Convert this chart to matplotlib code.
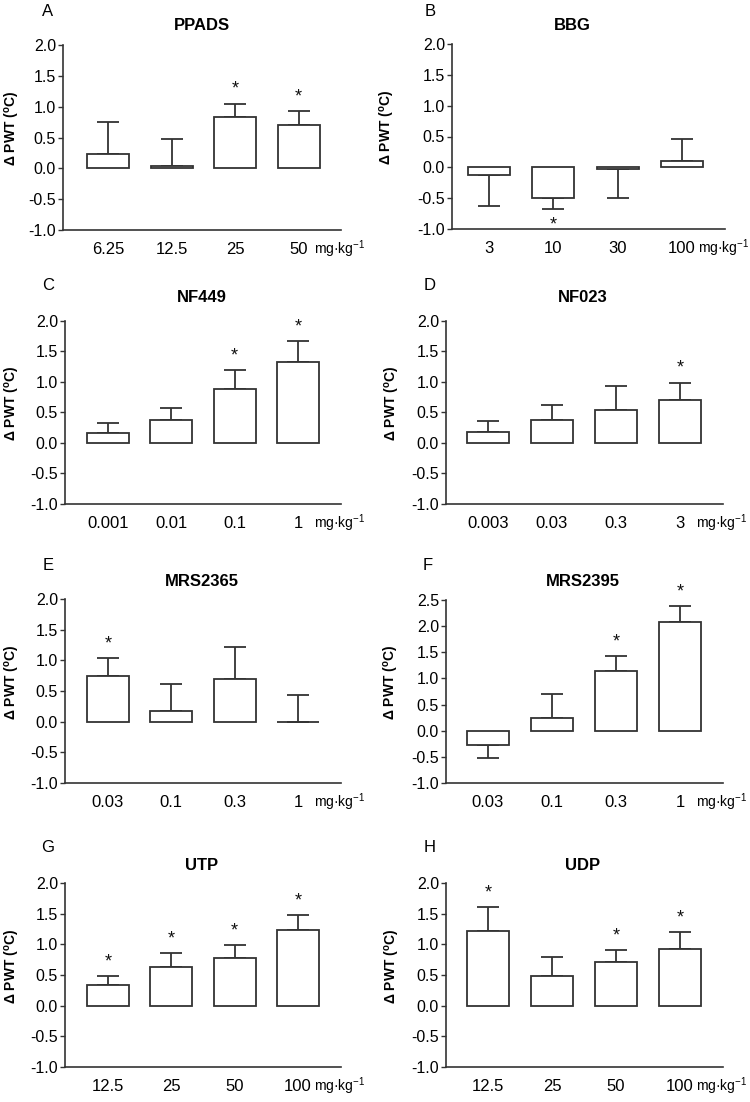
import numpy as np
import matplotlib
matplotlib.use('Agg')
import matplotlib.pyplot as plt

plt.rcParams['font.family'] = ['Liberation Sans', 'DejaVu Sans']
plt.rcParams['mathtext.fontset'] = 'custom'
plt.rcParams['mathtext.rm'] = 'Liberation Sans'
plt.rcParams['mathtext.bf'] = 'Liberation Sans:bold'
plt.rcParams['mathtext.it'] = 'Liberation Sans:italic'

# data: bar mean, end of the (one sided) error bar, significance
letters = ['A', 'B', 'C', 'D', 'E', 'F', 'G', 'H']
titles = ['PPADS', 'BBG', 'NF449', 'NF023', 'MRS2365', 'MRS2395', 'UTP', 'UDP']
doses = [
    ['6.25', '12.5', '25', '50'],
    ['3', '10', '30', '100'],
    ['0.001', '0.01', '0.1', '1'],
    ['0.003', '0.03', '0.3', '3'],
    ['0.03', '0.1', '0.3', '1'],
    ['0.03', '0.1', '0.3', '1'],
    ['12.5', '25', '50', '100'],
    ['12.5', '25', '50', '100'],
]
means = [
    [0.24, 0.04, 0.83, 0.71],
    [-0.13, -0.50, -0.02, 0.11],
    [0.16, 0.37, 0.89, 1.33],
    [0.18, 0.38, 0.54, 0.71],
    [0.74, 0.18, 0.69, 0.00],
    [-0.27, 0.24, 1.15, 2.07],
    [0.34, 0.63, 0.78, 1.23],
    [1.21, 0.48, 0.72, 0.93],
]
err_ends = [
    [0.75, 0.47, 1.05, 0.93],
    [-0.63, -0.67, -0.50, 0.46],
    [0.32, 0.58, 1.20, 1.67],
    [0.36, 0.63, 0.93, 0.99],
    [1.03, 0.62, 1.21, 0.43],
    [-0.52, 0.70, 1.42, 2.39],
    [0.48, 0.86, 0.99, 1.48],
    [1.61, 0.79, 0.90, 1.20],
]
signif = [
    [0, 0, 1, 1],
    [0, 1, 0, 0],
    [0, 0, 1, 1],
    [0, 0, 0, 1],
    [1, 0, 0, 0],
    [0, 0, 1, 1],
    [1, 1, 1, 1],
    [1, 0, 1, 1],
]
ytops = [2.0, 2.0, 2.0, 2.0, 2.0, 2.5, 2.0, 2.0]

# layout in pixels: axes left/right/top/bottom, first and last bar centre
W, H = 750, 1102
boxes = [
    (63, 341, 45, 230, 108, 298.5),
    (452, 725, 44, 229, 489, 682),
    (65, 341, 321, 504, 108, 298),
    (446, 723, 321, 504, 488, 680),
    (65, 341, 599, 783, 108, 298),
    (446, 723, 600, 783, 488, 680),
    (65, 341, 883, 1067, 108, 298),
    (446, 723, 883, 1067, 488, 680),
]
title_xy = [(202, 26), (572, 26), (202, 297), (583, 298),
            (202, 582), (583, 581), (202, 865), (583, 865)]
letter_xy = [(48, 12), (430, 12), (48, 285), (430, 285),
             (48, 565), (428, 565), (48, 848), (430, 848)]
ylab_x = [22, 397, 22, 402, 22, 401, 22, 402]

lc = '#333333'
base_pad = 17.5   # pt from the x axis line to the baseline of the dose labels

fig = plt.figure(figsize=(W / 100, H / 100), dpi=100)

for i in range(8):
    L, R, T, B, c0, c3 = boxes[i]
    ax = fig.add_axes([L / W, 1 - B / H, (R - L) / W, (B - T) / H])
    s = (c3 - c0) / 3
    x = np.arange(4)
    m = np.array(means[i])
    e = np.array(err_ends[i])

    ax.bar(x, m, width=42 / s, color='white', edgecolor=lc, linewidth=1.3, zorder=2)
    lo = np.where(e < m, m - e, 0)
    hi = np.where(e > m, e - m, 0)
    ax.errorbar(x, m, yerr=[lo, hi], fmt='none', ecolor=lc, elinewidth=1.3,
                capsize=8, capthick=1.3, zorder=1)

    for j in range(4):
        if signif[i][j]:
            dy = 7 if e[j] >= m[j] else -15
            ax.annotate('*', xy=(x[j], e[j]), xytext=(0, dy), textcoords='offset points',
                        ha='center', va='baseline', fontsize=13, color='#111111')

    ax.set_xlim(-(c0 - L) / s, 3 + (R - c3) / s)
    ax.set_ylim(-1.0, ytops[i])
    yt = np.arange(-1.0, ytops[i] + 0.01, 0.5)
    ax.set_yticks(yt)
    ax.set_yticklabels([f'{v:.1f}' for v in yt])
    ax.set_xticks(x)
    ax.set_xticklabels(doses[i], va='baseline')
    ax.tick_params(axis='x', length=0, pad=base_pad, labelsize=12)
    ax.tick_params(axis='y', length=3.5, width=1, color=lc, pad=1.5, labelsize=11.5)
    for sp in ['top', 'right']:
        ax.spines[sp].set_visible(False)
    for sp in ['left', 'bottom']:
        ax.spines[sp].set_color(lc)
        ax.spines[sp].set_linewidth(1.2)

    ax.annotate('mg·kg$^{-1}$', xy=(3, 0), xycoords=('data', 'axes fraction'),
                xytext=(11.5, -base_pad), textcoords='offset points', ha='left',
                va='baseline', fontsize=10)

    ax.set_ylabel('Δ PWT ($^{\\mathbf{o}}$C)', fontsize=10, fontweight='bold')
    ax.yaxis.set_label_coords((ylab_x[i] - L) / (R - L), 0.55)

    tx, ty = title_xy[i]
    fig.text(tx / W, 1 - ty / H, titles[i], ha='center', va='center',
             fontsize=12, fontweight='bold')
    lx, ly = letter_xy[i]
    fig.text(lx / W, 1 - ly / H, letters[i], ha='center', va='center', fontsize=12)

fig.savefig('out.png', dpi=100, facecolor='white')
